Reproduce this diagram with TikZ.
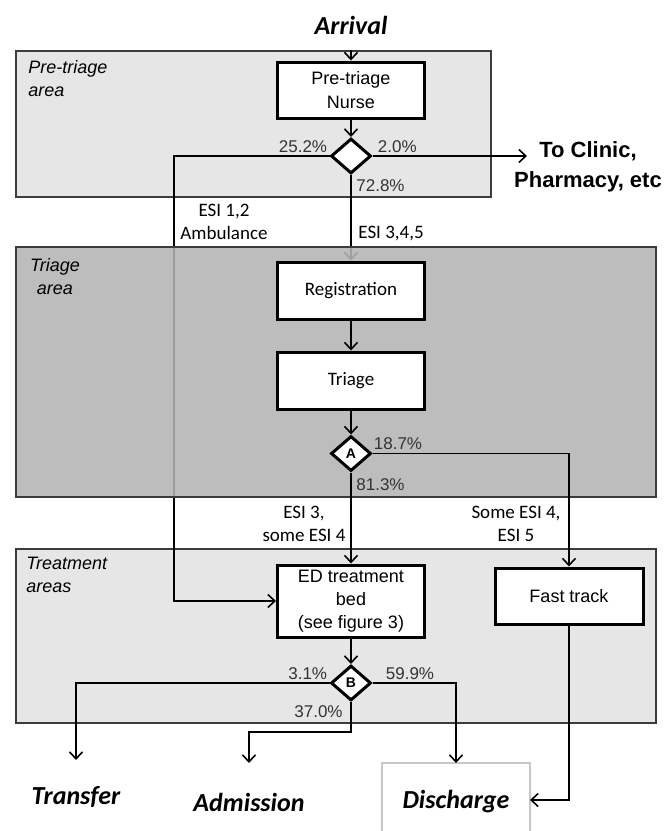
\documentclass[tikz,border=0pt]{standalone}
\usepackage{fontspec}
\setmainfont{Liberation Sans}
\newfontfamily\calibri{Carlito}
\usetikzlibrary{calc}
\usetikzlibrary{arrows.meta}
\usetikzlibrary{shapes.geometric}
\definecolor{PaleGray}{HTML}{E6E6E6}
\definecolor{GlassGray}{HTML}{B4B4B4}
\definecolor{EdgeGray}{HTML}{3C3C3C}
\definecolor{FrameGray}{HTML}{C8C8C8}
\definecolor{TextGray}{HTML}{333333}
\pgfdeclarelayer{areas}
\pgfdeclarelayer{passing}
\pgfdeclarelayer{glass}
\pgfsetlayers{areas,passing,glass,main}

\begin{document}
\begin{tikzpicture}[x=0.5pt, y=-0.5pt,
  area/.style={draw=EdgeGray, line width=0.8pt, inner sep=0pt},
  areatext/.style={font=\itshape\fontsize{9}{11.5}\selectfont, inner sep=0pt},
  stepbox/.style={draw, line width=1.5pt, fill=white, minimum width=73.5pt,
    inner sep=0pt, align=center},
  split/.style={diamond, draw, line width=1.5pt, fill=white, inner sep=0pt,
    minimum width=20pt, minimum height=17.5pt,
    font=\bfseries\fontsize{7}{7}\selectfont},
  pct/.style={font=\fontsize{8.5}{10}\selectfont, text=TextGray, inner sep=0pt},
  esi/.style={font=\calibri\fontsize{9.5}{11.5}\selectfont, inner sep=0pt, align=center},
  endpoint/.style={font=\calibri\bfseries\itshape\fontsize{13}{15}\selectfont, inner sep=0pt},
  flow/.style={line width=0.8pt, -{Straight Barb[length=3.5pt,width=6.5pt]}}]

  \useasboundingbox (0,0) rectangle (665,831);

  % the three areas
  \begin{pgfonlayer}{areas}
    \node[area, fill=PaleGray, minimum width=237.5pt, minimum height=73pt] (PreArea) at (253.5,124) {};
    \node[area, fill=PaleGray, minimum width=320pt, minimum height=87pt] (TreatArea) at (336,636) {};
  \end{pgfonlayer}
  \begin{pgfonlayer}{glass}
    \node[area, fill=GlassGray, fill opacity=0.88, minimum width=320pt, minimum height=125pt] (TriageArea) at (336,372) {};
  \end{pgfonlayer}

  \node[areatext, anchor=north west, align=left] (PreLabel) at (28,60) {Pre-triage\\area};
  \node[areatext, anchor=north, align=center] (TriageLabel) at (55,258) {Triage\\area};
  \node[areatext, anchor=north west, align=left] (TreatLabel) at (26,557) {Treatment\\areas};

  % steps
  \node[endpoint] (Arrival) at (351,25) {Arrival};
  \node[stepbox, minimum height=28pt, font=\fontsize{9}{12}\selectfont] (Nurse) at (351,90) {Pre-triage\\Nurse};
  \node[split] (SplitOne) at (351,156) {};
  \node[font=\bfseries\fontsize{11}{15}\selectfont, align=center, inner sep=0pt] (Clinic) at (588,167) {To Clinic,\\Pharmacy, etc};
  \coordinate (ToClinic) at (527,156);

  \node[stepbox, minimum height=28.5pt, font=\calibri\fontsize{9.5}{11}\selectfont] (Registration) at (351,290.5) {Registration};
  \node[stepbox, minimum height=28.5pt, font=\calibri\fontsize{9.5}{11}\selectfont] (Triage) at (351,380.5) {Triage};
  \node[split] (SplitA) at (351,453.5) {A};

  \node[stepbox, minimum height=36pt, font=\fontsize{9}{11.5}\selectfont] (EDBed) at (351,601) {ED treatment\\bed\\(see figure 3)};
  \node[stepbox, minimum width=74pt, minimum height=28pt, font=\fontsize{9}{11}\selectfont] (FastTrack) at (569,596) {Fast track};
  \node[split] (SplitB) at (351,683) {B};

  \node[endpoint] (Transfer) at (76,797) {Transfer};
  \node[endpoint] (Admission) at (249,802) {Admission};
  \node[endpoint] (Discharge) at (456,802) {Discharge};
  \draw[FrameGray, line width=0.8pt] (382,831) |- (530,763) -- (530,831);
  \coordinate (ToTransfer) at (76,760);
  \coordinate (ToAdmission) at (249,763);
  \coordinate (DischargeTop) at (456,763);
  \coordinate (DischargeSide) at (530,800);

  % connectors
  \draw[flow] (PreArea.north -| Nurse.north) -- (Nurse.north);
  \draw[flow] (Nurse) -- (SplitOne);
  \draw[flow] (SplitOne.east) -- (ToClinic);
  \begin{pgfonlayer}{passing}
    \draw[flow] (SplitOne.west) -| ([xshift=-51pt]EDBed.west) -- (EDBed.west);
    \draw[flow] (SplitOne.south) -- (Registration.north);
  \end{pgfonlayer}
  \draw[flow] (Registration) -- (Triage);
  \draw[flow] (Triage) -- (SplitA);
  \draw[flow] (SplitA) -- (EDBed);
  \draw[flow] (SplitA.east) -| (FastTrack.north);
  \draw[flow] (EDBed) -- (SplitB);
  \draw[flow] (SplitB.west) -| (ToTransfer);
  \draw[flow] (SplitB.south) |- ([yshift=15.5pt]ToAdmission) -- (ToAdmission);
  \draw[flow] (SplitB.east) -| (DischargeTop);
  \draw[flow] (FastTrack.south) |- (DischargeSide);

  % shares and groups
  \node[pct, anchor=base east] (PctAmb) at ([xshift=-1pt,yshift=2pt]SplitOne.west) {25.2\%};
  \node[pct, anchor=base west] (PctClinic) at ([xshift=2.5pt,yshift=2pt]SplitOne.east) {2.0\%};
  \node[pct, anchor=base west] (PctWalk) at ([xshift=2.5pt,yshift=-8pt]SplitOne.south) {72.8\%};
  \node[pct, anchor=base west] (PctFast) at ([xshift=0.5pt,yshift=2pt]SplitA.east) {18.7\%};
  \node[pct, anchor=base west] (PctBed) at ([xshift=2.5pt,yshift=-9pt]SplitA.south) {81.3\%};
  \node[pct, anchor=base east] (PctTransfer) at ([xshift=-1pt,yshift=2pt]SplitB.west) {3.1\%};
  \node[pct, anchor=base west] (PctDischarge) at ([xshift=6.5pt,yshift=2pt]SplitB.east) {59.9\%};
  \node[pct, anchor=base east] (PctAdmission) at ([xshift=-4pt,yshift=-7.5pt]SplitB.south) {37.0\%};

  \node[esi, anchor=north] (GrpAmb) at (224,204) {ESI 1,2\\Ambulance};
  \node[esi, anchor=base west] (GrpWalk) at (358,238) {ESI 3,4,5};
  \node[esi, anchor=north] (GrpBed) at (304,506) {ESI 3,\\some ESI 4};
  \node[esi, anchor=north] (GrpFast) at (516,506) {Some ESI 4,\\ESI 5};
\end{tikzpicture}
\end{document}
